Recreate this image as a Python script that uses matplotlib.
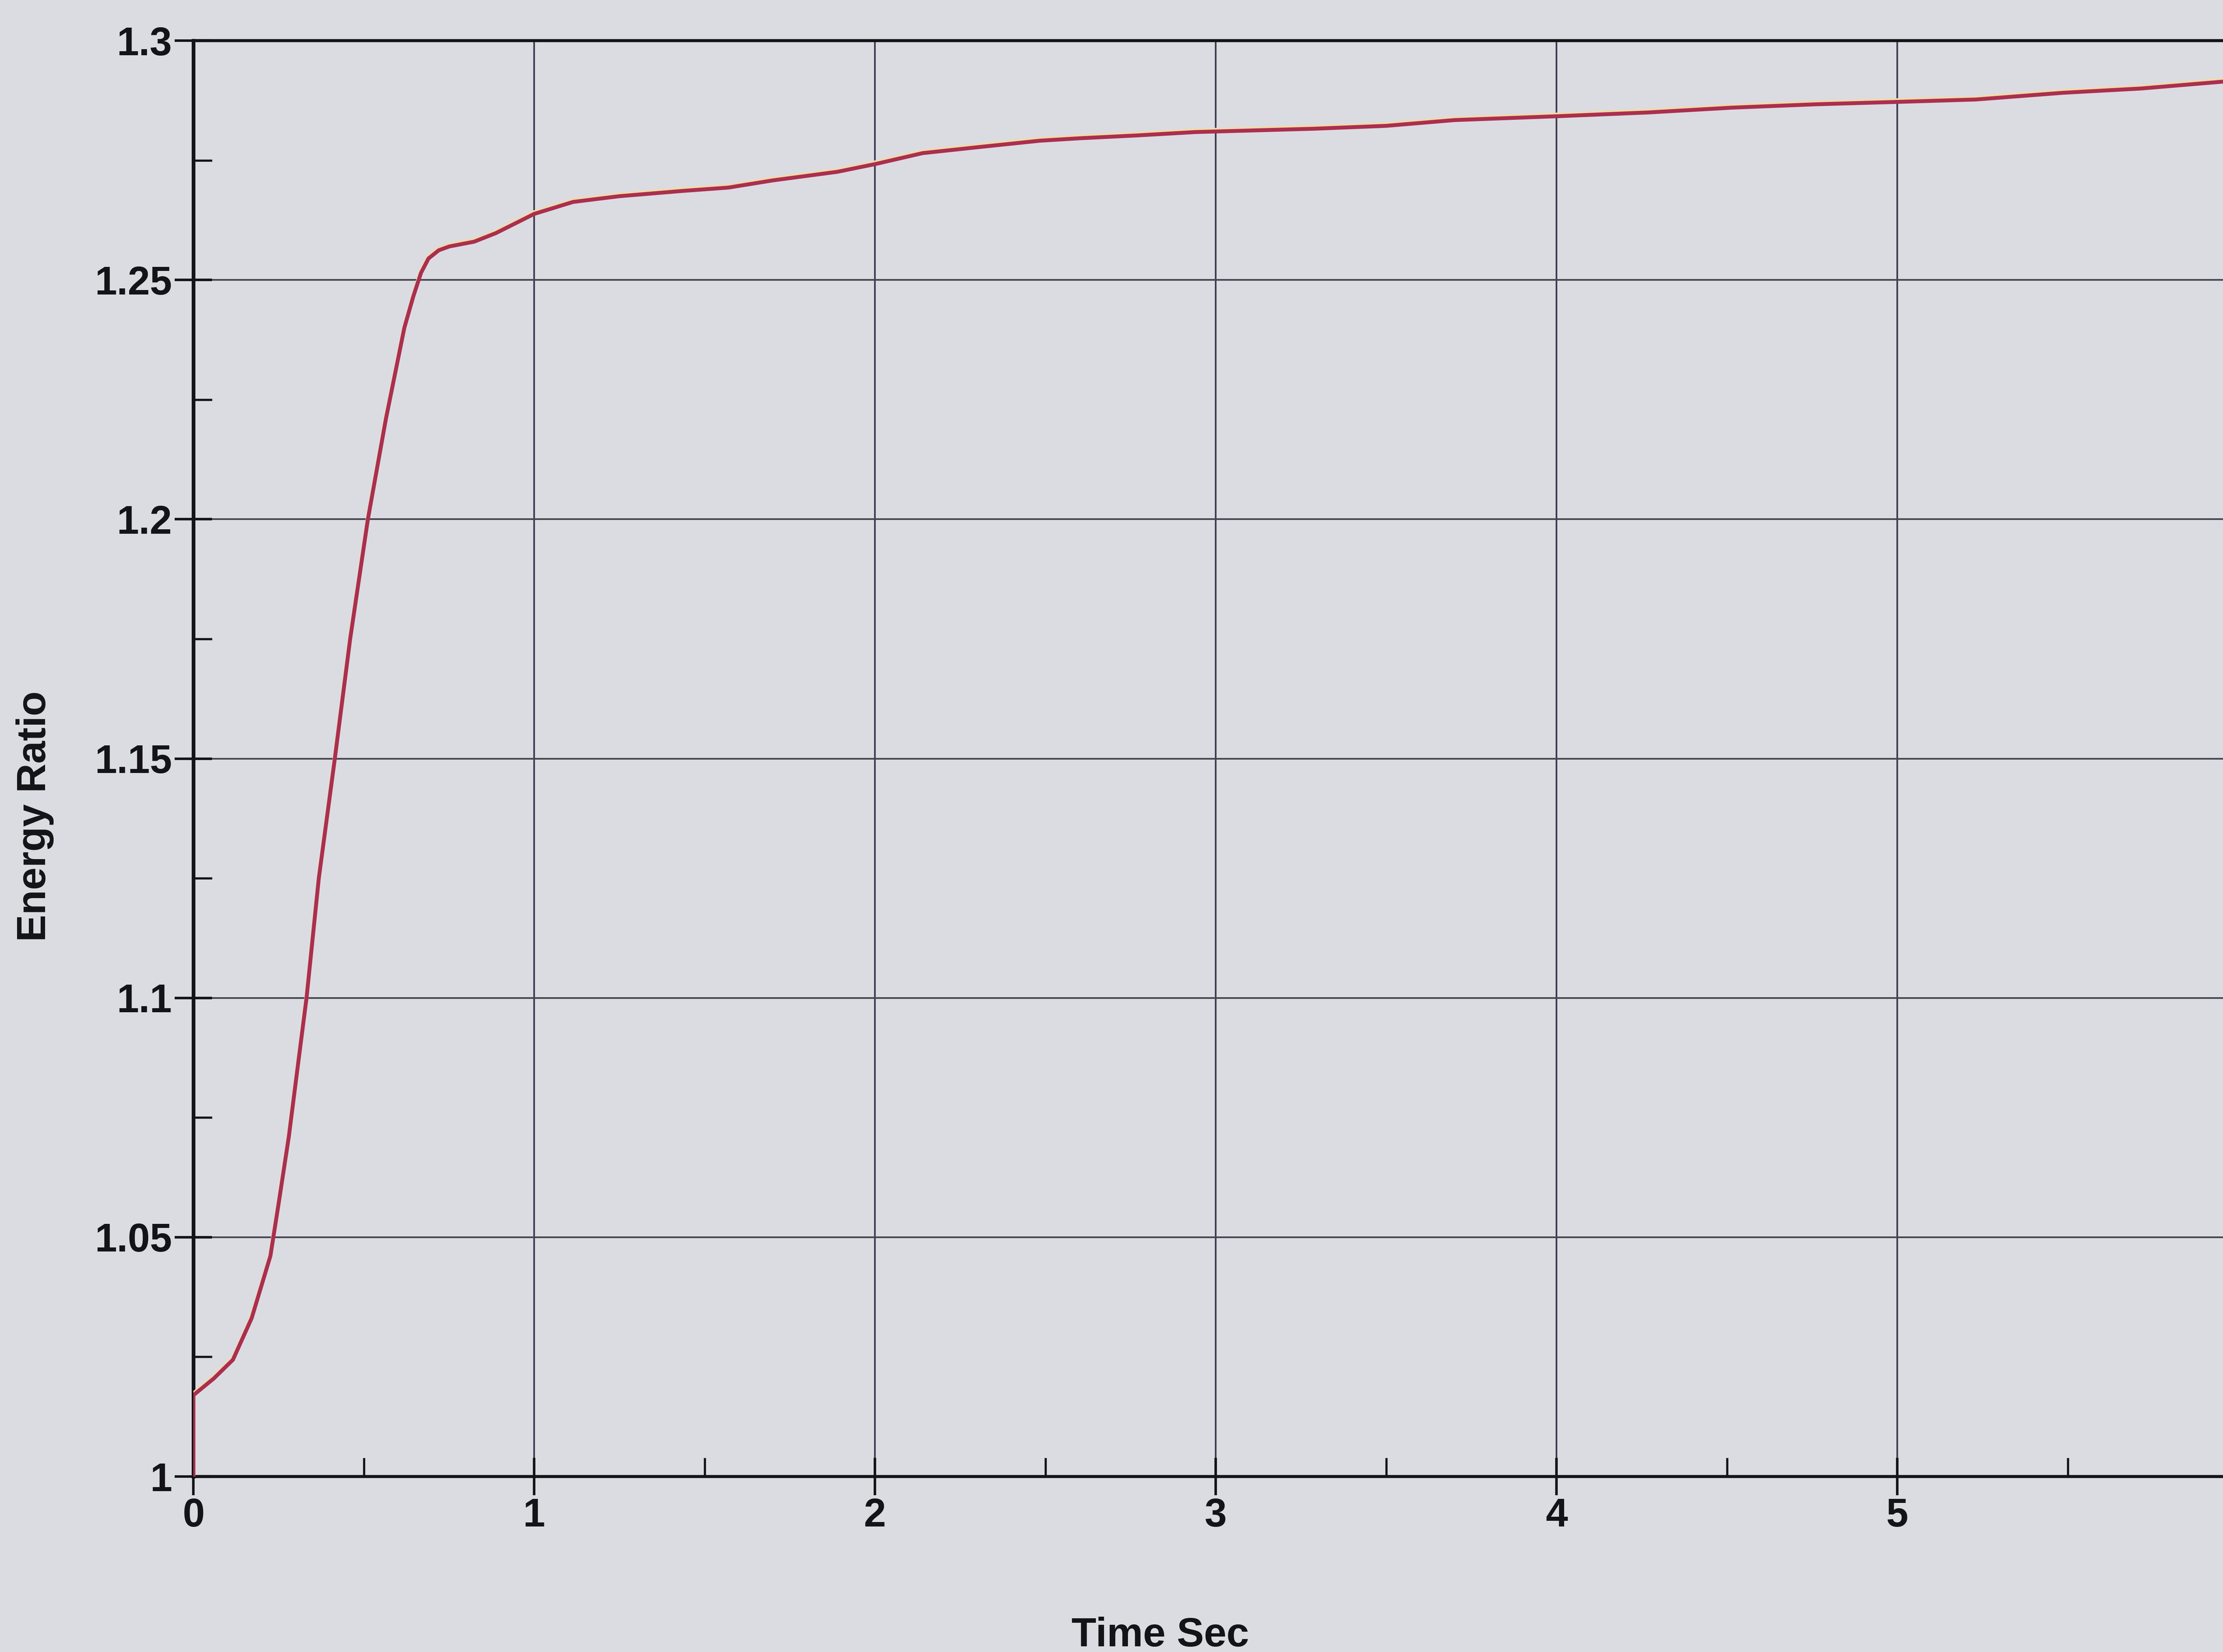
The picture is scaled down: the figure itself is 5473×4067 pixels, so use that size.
import matplotlib
matplotlib.use("Agg")
import matplotlib.pyplot as plt
from matplotlib import transforms
from matplotlib.ticker import FixedLocator, MultipleLocator

# Energy ratio time history
time_s = [0.0, 0.0, 0.06, 0.116, 0.171, 0.226, 0.25, 0.28, 0.305, 0.332, 0.368, 0.415,
          0.46, 0.512, 0.565, 0.619, 0.645, 0.668, 0.69, 0.72, 0.751, 0.824, 0.888,
          1.0, 1.114, 1.25, 1.435, 1.57, 1.70, 1.89, 2.0, 2.14, 2.31,
          2.485, 2.6, 2.77, 2.94, 3.29, 3.5, 3.7, 4.0, 4.27, 4.515,
          4.76, 5.0, 5.23, 5.485, 5.715, 5.95]
energy_ratio = [1.0, 1.017, 1.0205, 1.0244, 1.0331, 1.0461, 1.057, 1.071, 1.085, 1.100, 1.125, 1.150,
                1.175, 1.200, 1.221, 1.240, 1.2465, 1.2515, 1.2545, 1.2562, 1.2570, 1.2580, 1.2598,
                1.2638, 1.2663, 1.2675, 1.2686, 1.2693, 1.2708, 1.2726, 1.2742, 1.2765, 1.2778,
                1.2791, 1.2796, 1.2802, 1.2809, 1.2816, 1.2822, 1.2834, 1.2842, 1.2850, 1.2860,
                1.2867, 1.2872, 1.2877, 1.2891, 1.2900, 1.2914]

x_ticks = [0, 1, 2, 3, 4, 5]
x_tick_labels = ["0", "1", "2", "3", "4", "5"]
y_ticks = [1.0, 1.05, 1.1, 1.15, 1.2, 1.25, 1.3]
y_tick_labels = ["1", "1.05", "1.1", "1.15", "1.2", "1.25", "1.3"]

plt.rcParams["font.family"] = ["Liberation Sans", "DejaVu Sans"]

W, H, DPI = 5473, 4067, 300
bg = "#dbdce1"
ink = "#141418"

fig = plt.figure(figsize=(W / DPI, H / DPI), dpi=DPI)
fig.patch.set_facecolor(bg)
ax = fig.add_axes([0.087, 0.1062, 0.9198, 0.8692])
ax.set_facecolor(bg)
ax.set_xlim(0, 6)
ax.set_ylim(1.0, 1.3)

# grid
for xv in range(1, 7):
    ax.axvline(xv, color="#3b3e56", lw=1.0, zorder=1)
for yv in y_ticks[1:-1]:
    ax.axhline(yv, color="#45464f", lw=1.0, zorder=1)

# curve with the slight warm fringe of the print
halo = transforms.offset_copy(ax.transData, fig=fig, x=0, y=4, units="dots")
ax.plot(time_s, energy_ratio, color="#f1d9a8", lw=2.4, transform=halo,
        zorder=3, solid_joinstyle="round")
ax.plot(time_s, energy_ratio, color="#ab2f4e", lw=2.3, zorder=4,
        solid_joinstyle="round")

ax.xaxis.set_major_locator(FixedLocator(x_ticks))
ax.set_xticklabels(x_tick_labels)
ax.yaxis.set_major_locator(FixedLocator(y_ticks))
ax.set_yticklabels(y_tick_labels)
ax.xaxis.set_minor_locator(MultipleLocator(0.5))
ax.yaxis.set_minor_locator(MultipleLocator(0.025))

ax.tick_params(which="major", direction="inout", length=22, width=1.5,
               color=ink, pad=1.5, labelsize=23.5, labelcolor=ink)
ax.tick_params(which="minor", direction="in", length=11, width=1.3, color=ink)
for lab in ax.get_xticklabels() + ax.get_yticklabels():
    lab.set_fontweight("bold")

for side in ["left", "bottom", "top", "right"]:
    ax.spines[side].set_color(ink)
    ax.spines[side].set_linewidth(1.8)
ax.spines["left"].set_linewidth(2.2)

fig.text(0.0157, 0.5058, "Energy Ratio", rotation=90, ha="center", va="center",
         fontsize=24, fontweight="bold", color=ink)
fig.text(0.522, 0.0034, "Time Sec", ha="center", va="baseline",
         fontsize=24, fontweight="bold", color=ink)

fig.savefig("out.png", dpi=DPI, facecolor=bg)
